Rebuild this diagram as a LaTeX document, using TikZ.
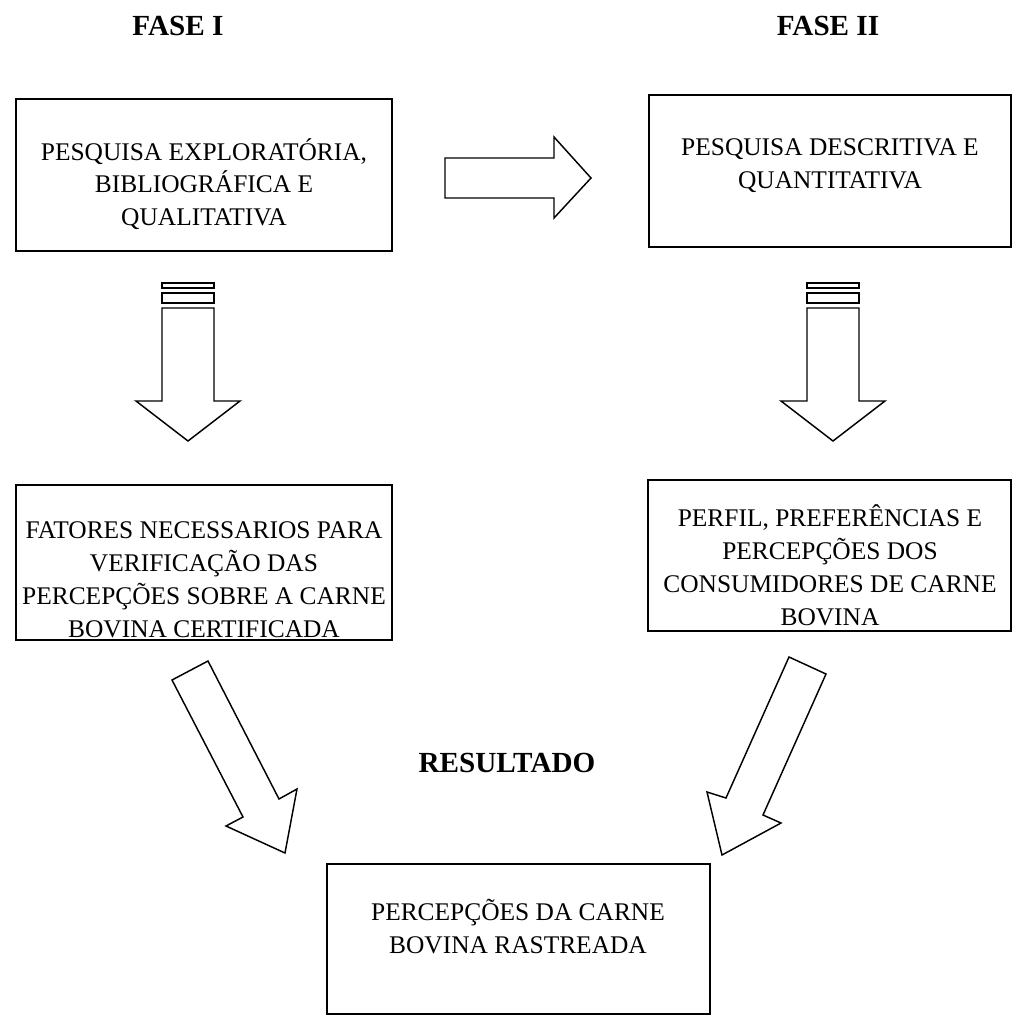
\documentclass[tikz,border=0pt]{standalone}
\usepackage{fontspec}
\setmainfont{Liberation Serif}
\tikzset{
    box/.style={draw, line width=0.9pt},
    txt/.style={align=center, inner sep=0pt, anchor=base, font=\fontsize{12.2}{15.7}\selectfont},
    head/.style={inner sep=0pt, anchor=base, font=\fontsize{14}{17}\selectfont\bfseries},
    blockarrow/.style={draw, line width=0.7pt, line join=miter}
}
\begin{document}
\begin{tikzpicture}[x=0.48pt, y=-0.48pt]
            \useasboundingbox (0,0) rectangle (1012,1015);
            \node[head] (fase1) at (178,35) {FASE I};
            \node[head] (fase2) at (828,35) {FASE II};
            \node[head] (result) at (507,772) {RESULTADO};

            \draw[box] (16,99) rectangle (392,251);
            \draw[box] (649,95) rectangle (1011,247);
            \draw[box] (16,485) rectangle (392,640);
            \draw[box] (648,480) rectangle (1011,631);
            \draw[box] (327,864) rectangle (710,1014);

            \node[txt] (explor) at (204,225.5) {PESQUISA EXPLORATÓRIA,\\BIBLIOGRÁFICA E\\QUALITATIVA};
            \node[txt] (descr) at (830,188.5) {PESQUISA DESCRITIVA E\\QUANTITATIVA};
            \node[txt] (fatores) at (204,637) {FATORES NECESSARIOS PARA\\VERIFICAÇÃO DAS\\PERCEPÇÕES SOBRE A CARNE\\BOVINA CERTIFICADA};
            \node[txt] (perfil) at (830,625) {PERFIL, PREFERÊNCIAS E\\PERCEPÇÕES DOS\\CONSUMIDORES DE CARNE\\BOVINA};
            \node[txt] (percep) at (518,953) {PERCEPÇÕES DA CARNE\\BOVINA RASTREADA};

            \draw[blockarrow] (445,158) -- (554,158) -- (554,137) -- (591,178) -- (554,218) -- (554,198) -- (445,198) -- cycle;
            \foreach \c in {188,833}
            {
                    \draw[blockarrow] (\c-26,283) rectangle (\c+26,288);
                    \draw[blockarrow] (\c-26,293) rectangle (\c+26,303);
                    \draw[blockarrow] (\c-26,308) -- (\c+26,308) -- (\c+26,401) -- (\c+52,401) -- (\c,441) -- (\c-52,401) -- (\c-26,401) -- cycle;
            }
            \draw[blockarrow] (172,680) -- (208,661) -- (279,799) -- (297,789) -- (285,853) -- (226,826) -- (243,817) -- cycle;
            \draw[blockarrow] (789,657) -- (826,674) -- (763,815) -- (781,823) -- (722,855) -- (707,792) -- (726,798) -- cycle;
        \end{tikzpicture}
\end{document}
